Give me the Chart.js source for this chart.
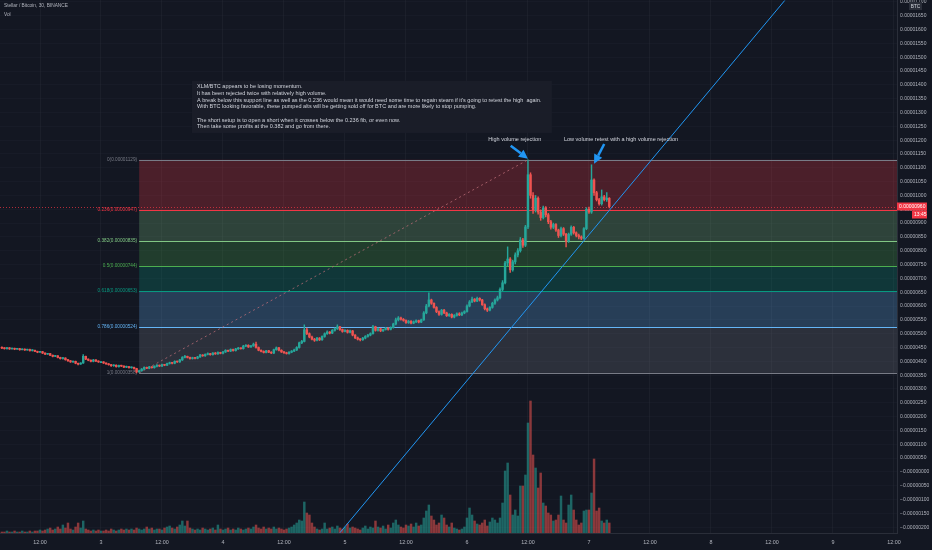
<!DOCTYPE html>
<html>
<head>
<meta charset="utf-8">
<title>Stellar / Bitcoin, 30, BINANCE</title>
<script src="https://cdn.jsdelivr.net/npm/chart.js@4.4.1/dist/chart.umd.min.js"></script>
<style>
html,body{margin:0;padding:0;background:#131722;overflow:hidden;}
</style>
</head>
<body>
<canvas id="xlmChart" width="932" height="550"></canvas>
<script>
/* =========================
   DATA  (prices in satoshi = 0.00000001 BTC, 30 min candles)
========================= */
var firstOpen = 450;

var closes = [
448,446,449,445,447,444,446,442,444,441,443,439,
440,436,433,435,430,426,428,422,418,420,414,410,
412,406,402,398,400,393,390,394,418,408,404,400,
405,401,398,398,394,391,388,384,386,381,385,383,
379,381,377,378,374,362,366,372,378,375,380,377,
382,386,383,388,386,392,395,393,400,398,405,414,
418,414,410,413,411,416,423,420,425,428,424,430,
427,432,429,434,440,437,443,439,445,448,446,455,
458,452,456,462,450,440,436,432,438,433,430,442,
449,440,434,431,428,433,437,441,450,467,472,514,
500,488,480,476,484,478,490,500,506,502,512,518,
525,515,508,512,505,510,495,485,480,478,484,490,
495,500,525,512,518,510,515,520,516,522,535,550,
557,552,548,540,545,538,543,547,542,550,575,600,
622,610,595,580,570,585,575,565,570,560,566,572,
568,575,580,600,615,625,618,628,622,605,590,585,
595,610,622,630,660,684,756,770,731,760,785,800,
839,820,886,1075,1000,948,990,940,920,955,930,905,
885,895,875,855,880,860,835,860,885,865,855,850,
845,880,950,940,1056,1010,985,970,995,985,990,960
];

var highs = [
452,450,451,450,448,448,447,447,445,445,444,444,
442,441,437,436,436,431,429,429,423,422,421,415,
414,413,407,403,401,401,394,395,424,419,409,405,
407,406,402,400,399,395,392,389,388,387,386,386,
384,383,382,380,379,375,368,374,380,379,382,381,
384,388,387,390,389,394,397,396,402,401,407,417,
422,419,415,415,414,418,425,424,427,431,429,432,
432,434,433,436,442,441,445,444,447,451,449,458,
461,460,458,466,470,452,442,438,440,440,435,444,
452,451,442,436,433,435,439,444,453,470,476,532,
520,503,491,483,487,486,492,503,510,508,515,521,
532,527,517,515,514,513,512,497,488,482,487,493,
498,503,530,527,521,520,517,523,522,525,538,556,
562,560,555,550,548,547,546,550,549,553,580,606,
648,625,612,598,583,588,588,578,573,572,569,575,
576,578,583,604,620,632,627,632,630,624,608,593,
598,614,626,636,666,692,762,814,775,766,792,808,
848,845,892,1129,1082,1010,1000,995,948,962,960,935,
910,900,898,878,886,884,863,864,890,888,868,860,
854,884,956,958,1111,1060,1015,990,1020,1000,1010,992
];

var lows = [
446,444,444,443,444,442,443,440,441,439,440,437,
437,435,431,432,428,424,425,420,416,417,412,408,
408,404,400,396,396,391,387,389,392,406,402,398,
398,399,396,395,392,389,386,382,382,379,379,381,
377,377,375,375,372,358,360,364,370,373,373,375,
375,380,381,381,384,384,390,391,391,396,396,403,
412,412,408,408,409,409,414,418,418,423,422,422,
425,425,427,427,432,435,435,437,437,443,444,444,
453,450,450,454,448,438,434,430,430,431,428,428,
440,438,432,429,426,426,431,435,439,448,464,470,
496,485,477,472,474,475,476,487,497,499,500,509,
515,512,505,506,502,503,492,482,477,474,476,481,
487,492,498,509,509,507,508,513,513,514,520,532,
546,549,545,537,537,535,536,540,539,540,548,572,
597,606,592,576,566,567,572,562,562,557,557,563,
565,565,572,578,597,612,615,616,618,602,586,580,
582,592,606,618,626,655,680,745,722,726,752,778,
795,812,815,880,990,935,940,932,910,915,922,898,
878,880,870,848,850,855,814,830,855,860,850,843,
840,842,876,935,935,1000,980,965,965,980,978,955
];

// volume (thousand XLM)
var volumes = [
1,1,2,1,1,2,1,1,2,1,1,2,1,2,2,3,
2,3,4,5,3,4,6,4,8,
5,10,4,3,6,10,5,12,
4,3,2,3,2,3,2,2,3,2,4,3,2,3,4,3,4,
3,4,3,5,4,3,4,6,
4,5,3,4,4,3,5,6,7,
5,4,6,8,12,7,12,
5,4,3,4,3,5,4,3,4,5,3,8,4,
3,4,5,3,4,3,5,4,3,4,5,4,6,8,
5,4,6,4,5,4,6,4,5,4,3,4,
5,6,8,10,13,12,31,20,18,
10,6,4,3,4,10,4,
5,6,4,7,5,4,6,9,5,
6,5,4,3,5,7,4,6,5,12,
6,5,7,4,8,5,10,13,8,
6,5,8,7,9,6,10,7,8,
15,22,28,17,13,8,10,
18,15,8,6,10,
5,4,3,4,6,15,
25,18,12,9,8,10,13,
7,11,15,13,10,15,
30,62,70,38,18,23,17,47,47,58,
110,132,78,65,45,60,30,27,20,
18,12,13,18,37,13,10,28,38,23,13,8,
10,22,23,23,40,74,22,25,12,10,13,10
];

// time axis: hours from day 3 00:00
var candleStartHour = -19.5;
var candleStepHours = 0.5;

var xTickHours  = [-12, 0, 12, 24, 36, 48, 60, 72, 84, 96, 108, 120, 132, 144, 156];
var xTickLabels = ["12:00","3","12:00","4","12:00","5","12:00","6","12:00","7","12:00","8","12:00","9","12:00"];

var priceTicks = [-200,-150,-100,-50,0,50,100,150,200,250,300,350,400,450,500,550,600,650,700,
750,800,850,900,950,1000,1050,1100,1150,1200,1250,1300,1350,1400,1450,1500,1550,1600,1650,1700];

// fib retracement
var fibRatios = ["0","0.236","0.382","0.5","0.618","0.786","1"];
var fibValues = [1129, 947, 835, 744, 653, 524, 358];
var fibColors = ["#787b86","#f23645","#81c784","#4caf50","#089981","#64b5f6","#787b86"];
var fibStartHour = 7.5;
var fibDiagHours  = [7.5, 84];
var fibDiagValues = [358, 1129];

// support trend line
var supportHours  = [47, 134.5];
var supportValues = [-220, 1705];

var lastPrice = 960;
var countdown = "13:45";

var noteLines = [
"XLM/BTC appears to be losing momentum.",
"It has been rejected twice with relatively high volume.",
"A break below this support line as well as the 0.236 would mean it would need some time to regain steam if it's going to retest the high  again.",
"With BTC looking favorable, these pumped alts will be getting sold off for BTC and are more likely to stop pumping.",
"",
"The short setup is to open a short when it crosses below the 0.236 fib, or even now.",
"Then take some profits at the 0.382 and go from there."
];

/* =========================
   LAYOUT / STYLE
========================= */
var priceMin = -221, priceMax = 1707;
var hourMin = -19.87, hourMax = 156.6;
var font = "'Liberation Sans', Arial, sans-serif";
var bg = "#131722";
var upColor = "#26a69a", downColor = "#ef5350";

function rgba(hex, a){
var n = parseInt(hex.slice(1), 16);
return "rgba(" + (n >> 16) + "," + ((n >> 8) & 255) + "," + (n & 255) + "," + a + ")";
}

/* build candle datasets */
var bodies = [], wicks = [], vols = [], candleCol = [], volCol = [];
var prev = firstOpen;
for (var i = 0; i < closes.length; i++) {
var h = candleStartHour + i * candleStepHours;
var o = prev, c = closes[i];
bodies.push({x: h, y: [o, c]});
wicks.push({x: h, y: [Math.min(lows[i], o, c), Math.max(highs[i], o, c)]});
vols.push({x: h, y: volumes[i]});
candleCol.push(c >= o ? upColor : downColor);
volCol.push(c >= o ? "rgba(38,166,154,0.55)" : "rgba(239,83,80,0.55)");
prev = c;
}

function arrow(ctx, x0, y0, x1, y1){
var a = Math.atan2(y1 - y0, x1 - x0), L = 9, W = 4.5;
ctx.strokeStyle = ctx.fillStyle = "#2196f3";
ctx.lineWidth = 2.5;
ctx.beginPath();
ctx.moveTo(x0, y0);
ctx.lineTo(x1 - L * Math.cos(a), y1 - L * Math.sin(a));
ctx.stroke();
ctx.beginPath();
ctx.moveTo(x1, y1);
ctx.lineTo(x1 - L * Math.cos(a) + W * Math.sin(a), y1 - L * Math.sin(a) - W * Math.cos(a));
ctx.lineTo(x1 - L * Math.cos(a) - W * Math.sin(a), y1 - L * Math.sin(a) + W * Math.cos(a));
ctx.closePath();
ctx.fill();
}

/* overlays: fib, price line, notes, header */
var overlay = {
id: "overlay",
beforeDraw: function(chart){
var ctx = chart.ctx;
ctx.save();
ctx.fillStyle = bg;
ctx.fillRect(0, 0, chart.width, chart.height);
ctx.restore();
},
beforeDatasetsDraw: function(chart){
var ctx = chart.ctx, xs = chart.scales.x, ys = chart.scales.y, area = chart.chartArea;
var x0 = xs.getPixelForValue(fibStartHour), x1 = area.right;
ctx.save();
ctx.beginPath();
ctx.rect(area.left, area.top, area.right - area.left, area.bottom - area.top);
ctx.clip();
for (var k = 0; k < fibValues.length - 1; k++) {
var yA = ys.getPixelForValue(fibValues[k]), yB = ys.getPixelForValue(fibValues[k + 1]);
ctx.fillStyle = rgba(fibColors[k + 1], 0.25);
ctx.fillRect(x0, yA, x1 - x0, yB - yA);
}
ctx.lineWidth = 1;
ctx.font = "4.7px " + font;
ctx.textAlign = "right";
ctx.textBaseline = "middle";
for (var k = 0; k < fibValues.length; k++) {
var y = Math.round(ys.getPixelForValue(fibValues[k])) + 0.5;
ctx.strokeStyle = fibColors[k];
ctx.beginPath();
ctx.moveTo(x0, y);
ctx.lineTo(x1, y);
ctx.stroke();
ctx.fillStyle = fibColors[k];
ctx.fillText(fibRatios[k] + "(" + (fibValues[k] / 1e8).toFixed(8) + ")", x0 - 2, y - 1);
}
// last price line
var yp = Math.round(ys.getPixelForValue(lastPrice)) + 0.5;
ctx.strokeStyle = "rgba(242,54,69,0.7)";
ctx.setLineDash([1, 2]);
ctx.beginPath();
ctx.moveTo(area.left, yp);
ctx.lineTo(area.right, yp);
ctx.stroke();
ctx.restore();
},
afterDatasetsDraw: function(chart){
var ctx = chart.ctx, xs = chart.scales.x, ys = chart.scales.y;
var bx0 = xs.getPixelForValue(17.9), bx1 = xs.getPixelForValue(88.7);
var by0 = ys.getPixelForValue(1415), by1 = ys.getPixelForValue(1226);
ctx.save();
ctx.fillStyle = "rgba(26,30,41,0.95)";
ctx.fillRect(bx0, by0, bx1 - bx0, by1 - by0);
ctx.fillStyle = "#d1d4dc";
ctx.font = "5.5px " + font;
ctx.textAlign = "left";
ctx.textBaseline = "middle";
for (var k = 0; k < noteLines.length; k++) {
ctx.fillText(noteLines[k], bx0 + 5, by0 + 6 + k * 6.7);
}
ctx.textAlign = "center";
ctx.fillText("High volume rejection", xs.getPixelForValue(81.4), ys.getPixelForValue(1201));
ctx.fillText("Low volume retest with a high volume rejection", xs.getPixelForValue(102.3), ys.getPixelForValue(1201));
arrow(ctx, xs.getPixelForValue(80.6), ys.getPixelForValue(1180), xs.getPixelForValue(84.0), ys.getPixelForValue(1133));
arrow(ctx, xs.getPixelForValue(99.0), ys.getPixelForValue(1186), xs.getPixelForValue(97.0), ys.getPixelForValue(1115));
ctx.restore();
},
afterDraw: function(chart){
var ctx = chart.ctx, ys = chart.scales.y, area = chart.chartArea;
ctx.save();
ctx.fillStyle = "#b2b5be";
ctx.font = "4.8px " + font;
ctx.textAlign = "left";
ctx.textBaseline = "middle";
ctx.fillText("Stellar / Bitcoin, 30, BINANCE", 4, 6);
ctx.fillText("Vol", 4, 14.5);
// BTC unit badge
ctx.fillStyle = "#2a2e39";
ctx.fillRect(area.right + 12, 2, 13, 8);
ctx.fillStyle = "#d1d4dc";
ctx.textAlign = "center";
ctx.fillText("BTC", area.right + 18.5, 6.5);
// last price badge
var yp = ys.getPixelForValue(lastPrice);
ctx.fillStyle = "#f23645";
ctx.fillRect(area.right, yp - 4, 30, 8);
ctx.fillRect(area.right + 15, yp + 4, 15, 8);
ctx.fillStyle = "#ffffff";
ctx.font = "5px " + font;
ctx.textAlign = "left";
ctx.fillText((lastPrice / 1e8).toFixed(8), area.right + 2, yp + 0.3);
ctx.fillText(countdown, area.right + 17, yp + 8.3);
ctx.restore();
}
};

/* =========================
   CHART
========================= */
var ctx = document.getElementById("xlmChart").getContext("2d");

new Chart(ctx, {
type: "bar",
data: {
datasets: [
{
type: "line",
label: "Support",
data: supportHours.map(function(h, k){ return {x: h, y: supportValues[k]}; }),
borderColor: "#2196f3",
borderWidth: 1,
pointRadius: 0,
order: 0
},
{
label: "Body",
data: bodies,
backgroundColor: candleCol,
barThickness: 1.8,
minBarLength: 0.8,
grouped: false,
order: 1
},
{
label: "Wick",
data: wicks,
backgroundColor: candleCol,
barThickness: 0.8,
grouped: false,
order: 2
},
{
type: "line",
label: "Fib trend",
data: fibDiagHours.map(function(h, k){ return {x: h, y: fibDiagValues[k]}; }),
borderColor: "rgba(190,110,120,0.75)",
borderDash: [2, 3],
borderWidth: 1,
pointRadius: 0,
order: 3
},
{
label: "Vol",
data: vols,
backgroundColor: volCol,
barThickness: 1.8,
grouped: false,
yAxisID: "yv",
order: 4
}
]
},
options: {
responsive: false,
animation: false,
layout: {padding: 0},
plugins: {legend: {display: false}, tooltip: {enabled: false}},
scales: {
x: {
type: "linear",
min: hourMin,
max: hourMax,
offset: false,
grid: {color: "rgba(42,46,57,0.35)", offset: false, drawTicks: false},
border: {color: "#2a2e39"},
afterBuildTicks: function(s){ s.ticks = xTickHours.map(function(v){ return {value: v}; }); },
afterFit: function(s){ s.height = 17; s.paddingLeft = 0; s.paddingRight = 0; },
ticks: {
color: "#b2b5be",
font: {family: font, size: 5.4},
padding: 6,
maxRotation: 0,
autoSkip: false,
callback: function(v, idx){ return xTickLabels[idx]; }
}
},
y: {
type: "linear",
position: "right",
min: priceMin,
max: priceMax,
grid: {color: "rgba(42,46,57,0.22)", drawTicks: false},
border: {color: "#2a2e39"},
afterBuildTicks: function(s){ s.ticks = priceTicks.map(function(v){ return {value: v}; }); },
afterFit: function(s){ s.width = 35; s.paddingTop = 0; s.paddingBottom = 0; },
ticks: {
color: "#b2b5be",
font: {family: font, size: 5},
padding: 3,
autoSkip: false,
callback: function(v){ return (v <= 0 ? "\u2212" : "") + (Math.abs(v) / 1e8).toFixed(8); }
}
},
yv: {
type: "linear",
display: false,
min: 0,
max: 533
}
}
},
plugins: [overlay]
});
</script>
</body>
</html>
